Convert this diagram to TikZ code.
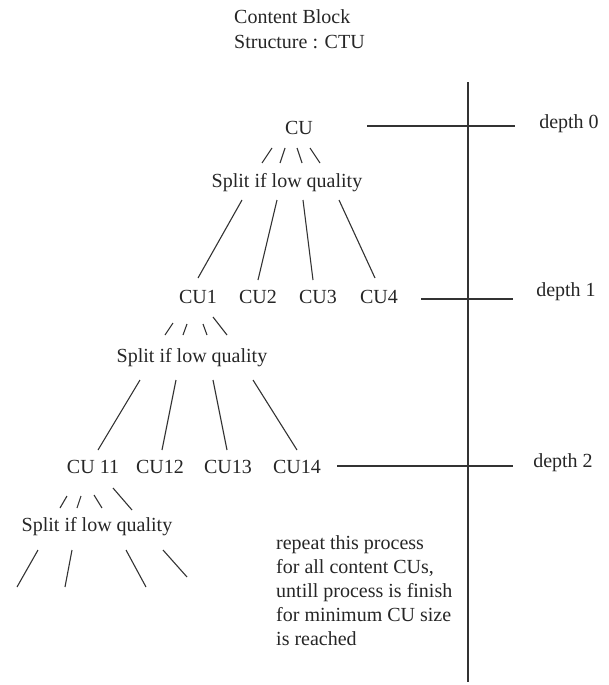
\documentclass[tikz,border=0pt]{standalone}
\usepackage{fontspec}
\setmainfont{Liberation Serif}
\usetikzlibrary{calc}
\begin{document}
\begin{tikzpicture}[x=1pt,y=-1pt,
  txt/.style={inner sep=0pt,text=black!85,font=\fontsize{20}{24}\selectfont},
  link/.style={draw=black!80,line width=1.1pt},
  tick/.style={draw=black!80,line width=1.1pt}]
\useasboundingbox (0,0) rectangle (609,685);
% title
\node[txt,anchor=west,align=left,font=\fontsize{20}{25}\selectfont] (title) at (234,29.5) {Content Block\\Structure : CTU};
% level 0
\node[txt] (cu0) at (299,128) {CU};
\node[txt] (split0) at (287,183) {Split if low quality};
% level 1
\node[txt] (cu1) at (198,297) {CU1};
\node[txt] (cu2) at (258,297) {CU2};
\node[txt] (cu3) at (318,297) {CU3};
\node[txt] (cu4) at (379,297) {CU4};
\node[txt] (split1) at (192,358) {Split if low quality};
% level 2
\node[txt] (cu11) at (93,467) {CU 11};
\node[txt] (cu12) at (160,467) {CU12};
\node[txt] (cu13) at (228,467) {CU13};
\node[txt] (cu14) at (297,467) {CU14};
\node[txt] (split2) at (97,527) {Split if low quality};
% note
\node[txt,anchor=north west,align=left] (note) at (276,535) {repeat this process\\for all content CUs,\\untill process is finish\\for minimum CU size\\is reached};
% depth labels
\node[txt] (d0) at (569,124) {depth 0};
\node[txt] (d1) at (566,292) {depth 1};
\node[txt] (d2) at (563,463) {depth 2};
% axis
\coordinate (vtop) at (468,82);
\coordinate (vbot) at (468,682);
\draw[tick] (vtop) -- (vbot);
\coordinate (h0a) at (367,126); \coordinate (h0b) at (515,126);
\coordinate (h1a) at (421,299); \coordinate (h1b) at (513,299);
\coordinate (h2a) at (337,466); \coordinate (h2b) at (513,466);
\draw[tick] (h0a) -- (h0b);
\draw[tick] (h1a) -- (h1b);
\draw[tick] (h2a) -- (h2b);
% small slashes under CU
\draw[link] ($(cu0)+(-37,35)$) -- ($(cu0)+(-27,20)$);
\draw[link] ($(cu0)+(-19,35)$) -- ($(cu0)+(-14,20)$);
\draw[link] ($(cu0)+(-2,20)$) -- ($(cu0)+(3,35)$);
\draw[link] ($(cu0)+(11,20)$) -- ($(cu0)+(21,35)$);
% split0 -> CU1..4
\draw[link] ($(split0)+(-45,17)$) -- ($(cu1)+(0,-19)$);
\draw[link] ($(split0)+(-10,17)$) -- ($(cu2)+(0,-17)$);
\draw[link] ($(split0)+(16,17)$) -- ($(cu3)+(-5,-17)$);
\draw[link] ($(split0)+(52,17)$) -- ($(cu4)+(-4,-19)$);
% small slashes under CU1
\draw[link] ($(cu1)+(-33,38)$) -- ($(cu1)+(-25,26)$);
\draw[link] ($(cu1)+(-15,38)$) -- ($(cu1)+(-11,27)$);
\draw[link] ($(cu1)+(5,27)$) -- ($(cu1)+(9,38)$);
\draw[link] ($(cu1)+(15,20)$) -- ($(cu1)+(29,38)$);
% split1 -> CU11..14
\draw[link] ($(split1)+(-52,22)$) -- ($(cu11)+(5,-17)$);
\draw[link] ($(split1)+(-16,22)$) -- ($(cu12)+(2,-17)$);
\draw[link] ($(split1)+(21,22)$) -- ($(cu13)+(-1,-17)$);
\draw[link] ($(split1)+(61,22)$) -- ($(cu14)+(0,-17)$);
% small slashes under CU 11
\draw[link] ($(cu11)+(-33,41)$) -- ($(cu11)+(-26,29)$);
\draw[link] ($(cu11)+(-16,41)$) -- ($(cu11)+(-12,29)$);
\draw[link] ($(cu11)+(1,28)$) -- ($(cu11)+(9,41)$);
\draw[link] ($(cu11)+(20,21)$) -- ($(cu11)+(39,43)$);
% split2 -> children (free ends)
\coordinate (e1) at (17,587);
\coordinate (e2) at (65,587);
\coordinate (e3) at (146,587);
\coordinate (e4) at (187,577);
\draw[link] ($(split2)+(-59,23)$) -- (e1);
\draw[link] ($(split2)+(-25,23)$) -- (e2);
\draw[link] ($(split2)+(29,23)$) -- (e3);
\draw[link] ($(split2)+(66,23)$) -- (e4);
\end{tikzpicture}
\end{document}
